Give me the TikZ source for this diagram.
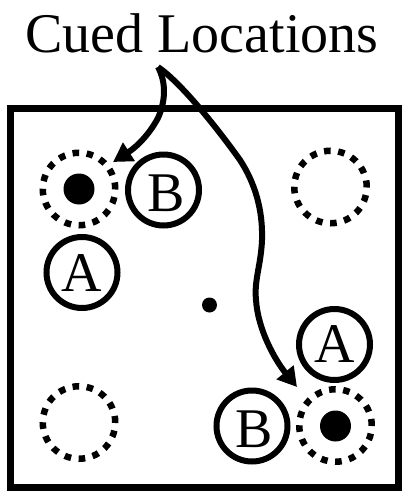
\documentclass[tikz,border=0pt]{standalone}
\usepackage{fontspec}
\setmainfont{Liberation Serif}
\usetikzlibrary{arrows.meta}
\newcommand{\bigfont}{\fontsize{56}{60}\selectfont}
\tikzset{
  ring/.style={draw, circle, line width=6pt, minimum size=71pt, inner sep=0pt},
  cueRing/.style={draw, circle, line width=6.5pt, minimum size=72.5pt, inner sep=0pt,
    dash pattern=on 6.6pt off 7.6pt, line cap=butt},
  cueDot/.style={fill, circle, minimum size=31pt, inner sep=0pt},
  letter/.style={font=\bigfont, inner sep=0pt},
  cueArrow/.style={line width=6pt, line join=round, -{Triangle[length=19pt,width=21pt]}}
}
\begin{document}
\begin{tikzpicture}[x=1pt,y=-1pt]
\useasboundingbox (0,0) rectangle (403,491);
% title
\node[letter, anchor=base] (title) at (202,52) {Cued Locations};
% frame
\draw[line width=7pt] (10.5,108) rectangle (398.5,487);
% centre dot
\node[fill, circle, minimum size=15pt, inner sep=0pt] (ctr) at (209.5,305) {};
% cued locations
\node[cueRing] (c1) at (79,189) {};
\node[cueDot] (d1) at (79,189) {};
\node[cueRing] (c2) at (335.5,425.5) {};
\node[cueDot] (d2) at (335.5,426) {};
% other locations
\node[cueRing] (c3) at (330.5,187) {};
\node[cueRing] (c4) at (79,422.5) {};
% landmarks
\node[ring] (b1) at (163.5,190) {};
\node[letter, yshift=-3pt, xshift=3pt] (b1t) at (b1) {B};
\node[ring] (a1) at (82,272.5) {};
\node[letter, yshift=-1pt] (a1t) at (a1) {A};
\node[ring] (a2) at (334.5,344.5) {};
\node[letter] (a2t) at (a2) {A};
\node[ring] (b2) at (252,426) {};
\node[letter, yshift=-3pt, xshift=2pt] (b2t) at (b2) {B};
% arrows
\coordinate (top) at (158,67);
\coordinate (tipL) at (113,162);
\coordinate (tipR) at (297,387);
\draw[cueArrow] (top) .. controls (166,82) and (166,100) .. (158,118)
  .. controls (150,133) and (138,146) .. (tipL);
\draw[cueArrow] (top) .. controls (180,82) and (215,125) .. (240,160)
  .. controls (255,183) and (263,210) .. (262,240)
  .. controls (261,265) and (254,280) .. (256,300)
  .. controls (258,330) and (275,360) .. (tipR);
\end{tikzpicture}
\end{document}
